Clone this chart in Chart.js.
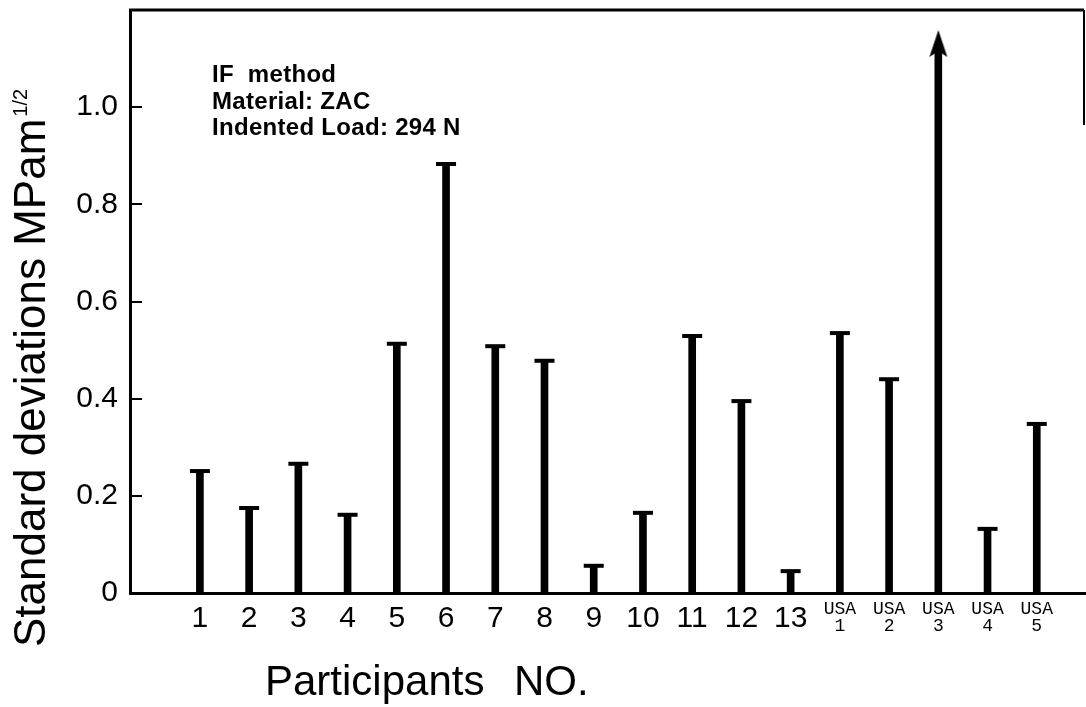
<!DOCTYPE html>
<html>
<head>
<meta charset="utf-8">
<title>Standard deviations - IF method</title>
<script src="https://cdn.jsdelivr.net/npm/chart.js@4/dist/chart.umd.min.js"></script>
<style>
  body { margin: 0; background: #fff; }
  canvas { display: block; }
</style>
</head>
<body>
<canvas id="chart" width="1086" height="707"></canvas>
<script>
//
// Standard deviations of fracture toughness per participant (IF method, ZAC, 294 N)
//

const participants = ["1", "2", "3", "4", "5", "6", "7", "8", "9", "10", "11", "12", "13",
    "USA 1", "USA 2", "USA 3", "USA 4", "USA 5"]
const stdDev = [0.251, 0.175, 0.266, 0.161, 0.513, 0.883, 0.508, 0.478, 0.056, 0.165,
    0.529, 0.395, 0.045, 0.535, 0.440, 1.13, 0.132, 0.348]
// value runs past the top of the axis, drawn with an arrow head instead of a cap
const offScale = ["USA 3"]

const tickLabels = ["1", "2", "3", "4", "5", "6", "7", "8", "9", "10", "11", "12", "13",
    ["USA", "1"], ["USA", "2"], ["USA", "3"], ["USA", "4"], ["USA", "5"]]
const yTicks = [0, 0.2, 0.4, 0.6, 0.8, 1.0]

const notes = ["IF  method", "Material: ZAC", "Indented Load: 294 N"]
const yTitle = "Standard deviations MPam"
const yTitleSup = "1/2"

const sans = '"Liberation Sans", Arial, sans-serif'
const mono = '"Courier New", "Liberation Mono", monospace'

//Arrow head used as point style for off-scale values.
const arrowHead = document.createElement("canvas")
arrowHead.width = 20
arrowHead.height = 28
{
    const a = arrowHead.getContext("2d")
    a.fillStyle = "#000"
    a.beginPath()
    a.moveTo(10, 0)
    a.lineTo(19, 27)
    a.lineTo(10, 21)
    a.lineTo(1, 27)
    a.closePath()
    a.fill()
}

const points = participants.map((p, i) => ({ x: i + 1, y: stdDev[i] }))
const caps = participants.map((p, i) => ({ x: i + 1, y: offScale.includes(p) ? null : stdDev[i] }))
const arrows = participants.map((p, i) => ({ x: i + 1, y: offScale.includes(p) ? stdDev[i] : null }))

//Frame, inner tick marks, notes and axis titles.
const decorations = {
    id: "decorations",
    afterDraw(chart) {
        const ctx = chart.ctx
        const area = chart.chartArea
        const yScale = chart.scales.y
        ctx.save()
        ctx.strokeStyle = "#000"
        ctx.fillStyle = "#000"

        // top border and the short piece of the right border
        ctx.lineWidth = 3
        ctx.beginPath()
        ctx.moveTo(area.left - 1, area.top)
        ctx.lineTo(area.right - 2, area.top)
        ctx.stroke()
        ctx.lineWidth = 2
        ctx.beginPath()
        ctx.moveTo(area.right - 2, area.top)
        ctx.lineTo(area.right - 2, 125)
        ctx.stroke()

        // tick marks pointing into the plot
        ctx.lineWidth = 2
        for (let t of yScale.ticks) {
            if (t.value === 0) continue
            const y = Math.round(yScale.getPixelForValue(t.value))
            ctx.beginPath()
            ctx.moveTo(area.left, y)
            ctx.lineTo(area.left + 12, y)
            ctx.stroke()
        }

        // notes block
        ctx.font = "bold 24px " + sans
        ctx.letterSpacing = "0.3px"
        ctx.textAlign = "left"
        ctx.textBaseline = "alphabetic"
        notes.forEach((line, i) => ctx.fillText(line, 212, 82 + i * 26.5))
        ctx.letterSpacing = "0px"

        // x title
        ctx.font = "42px " + sans
        ctx.fillText("Participants", 265, 695)
        ctx.fillText("NO.", 514, 695)

        // y title with superscript
        ctx.translate(45, 647)
        ctx.rotate(-Math.PI / 2)
        ctx.font = "44px " + sans
        ctx.fillText(yTitle, 0, 0)
        const w = ctx.measureText(yTitle).width
        ctx.font = "20px " + sans
        ctx.fillText(yTitleSup, w + 2, -18)
        ctx.restore()
    }
}

new Chart(document.getElementById("chart"), {
    data: {
        datasets: [
            {
                type: "bar",
                data: points,
                backgroundColor: "#000",
                borderWidth: 0,
                barThickness: 7
            },
            {
                type: "line",
                data: caps,
                showLine: false,
                pointStyle: "line",
                pointRadius: 10,
                pointBorderWidth: 4,
                borderColor: "#000"
            },
            {
                type: "line",
                data: arrows,
                showLine: false,
                pointStyle: arrowHead
            }
        ]
    },
    options: {
        responsive: false,
        animation: false,
        events: [],
        layout: { autoPadding: false, padding: { top: 10, right: 0, left: 0, bottom: 0 } },
        plugins: {
            legend: { display: false },
            tooltip: { enabled: false }
        },
        scales: {
            x: {
                type: "linear",
                offset: false,
                min: -0.42,
                max: 19,
                grid: { display: false, drawTicks: false, offset: false },
                border: { color: "#000", width: 3 },
                afterBuildTicks: (scale) => {
                    scale.ticks = tickLabels.map((_, i) => ({ value: i + 1 }))
                },
                afterFit: (scale) => {
                    scale.height = 114
                    scale.paddingLeft = 0
                    scale.paddingRight = 0
                },
                ticks: {
                    color: "#000",
                    padding: 8,
                    maxRotation: 0,
                    autoSkip: false,
                    font: (ctx) => ctx.index >= 13
                        ? { family: mono, size: 18, lineHeight: 0.95 }
                        : { family: sans, size: 30, lineHeight: 1.2 },
                    callback: (value, index) => tickLabels[index]
                }
            },
            y: {
                min: 0,
                max: 1.2,
                grid: { display: false, drawTicks: false },
                border: { color: "#000", width: 3 },
                afterBuildTicks: (scale) => {
                    scale.ticks = yTicks.map((v) => ({ value: v }))
                },
                afterFit: (scale) => {
                    scale.width = 130
                    scale.paddingTop = 0
                    scale.paddingBottom = 0
                },
                ticks: {
                    color: "#000",
                    padding: 12,
                    font: { family: sans, size: 30 },
                    callback: (v) => v === 0 ? "0" : v.toFixed(1)
                }
            }
        }
    },
    plugins: [decorations]
})
</script>
</body>
</html>
